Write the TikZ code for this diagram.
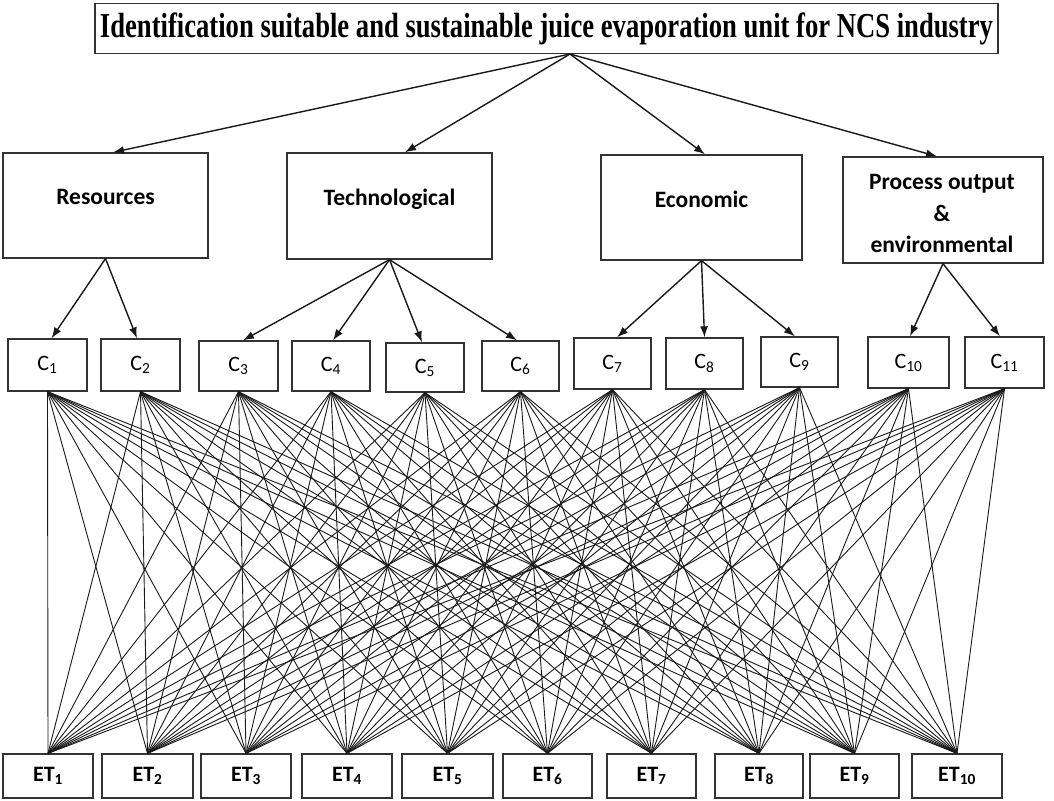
\documentclass[tikz,border=0pt]{standalone}
\usepackage{fontspec}
\usepackage{graphicx}
\setmainfont{Liberation Serif}
\newfontfamily\carlito{Carlito}
\usetikzlibrary{arrows.meta,calc}
\begin{document}
\begin{tikzpicture}[x=1pt,y=-1pt,
  box/.style={draw=black!80,line width=1.3pt,rectangle,inner sep=0pt},
  arr/.style={-{Latex[length=11pt,width=8pt]},line width=1.4pt,black!90},
  mesh/.style={line width=0.9pt,black!90},
  goaltext/.style={font=\bfseries\fontsize{35}{38}\selectfont},
  cattext/.style={font=\carlito\bfseries\fontsize{23.5}{31.5}\selectfont,align=center,inner sep=0pt},
  crit/.style={box,font=\carlito\fontsize{22}{24}\selectfont},
  alt/.style={box,minimum width=90pt,minimum height=44pt,font=\carlito\bfseries\fontsize{22}{24}\selectfont}]
\useasboundingbox (0,0) rectangle (1054,800);

% goal
\node[box,goaltext,minimum width=903pt,minimum height=50pt] (goal) at (546.5,28.5)
  {\resizebox{893pt}{\height}{Identification suitable and sustainable juice evaporation unit for NCS industry}};
\coordinate (gap) at (570,54);

% criteria groups
\node[box,minimum width=205pt,minimum height=105pt] (res) at (105.5,205.5) {};
\node[box,minimum width=205pt,minimum height=106pt] (tech) at (389.5,206) {};
\node[box,minimum width=201pt,minimum height=105pt] (eco) at (701.5,207.5) {};
\node[box,minimum width=200pt,minimum height=106pt] (proc) at (943,210) {};
\node[cattext] (res-t) at (105.5,197) {Resources};
\node[cattext] (tech-t) at (389.5,199.5) {Technological};
\node[cattext] (eco-t) at (701.5,199) {Economic};
\node[cattext] (proc-t) at (942,213.5) {Process output\\\&\\environmental};

% criteria
\node[crit,minimum width=79pt,minimum height=52pt] (c1) at (47.5,365) {C\textsubscript{1}};
\node[crit,minimum width=79pt,minimum height=52pt] (c2) at (140.5,365) {C\textsubscript{2}};
\node[crit,minimum width=79pt,minimum height=50pt] (c3) at (238.5,366) {C\textsubscript{3}};
\node[crit,minimum width=78pt,minimum height=50pt] (c4) at (331,366) {C\textsubscript{4}};
\node[crit,minimum width=78pt,minimum height=49pt] (c5) at (425,367.5) {C\textsubscript{5}};
\node[crit,minimum width=77pt,minimum height=50pt] (c6) at (520.5,366) {C\textsubscript{6}};
\node[crit,minimum width=77pt,minimum height=51pt] (c7) at (612.5,363.5) {C\textsubscript{7}};
\node[crit,minimum width=77pt,minimum height=51pt] (c8) at (704.5,363.5) {C\textsubscript{8}};
\node[crit,minimum width=77pt,minimum height=50pt] (c9) at (799.5,362) {C\textsubscript{9}};
\node[crit,minimum width=81pt,minimum height=51pt] (c10) at (908.5,362.5) {C\textsubscript{10}};
\node[crit,minimum width=79pt,minimum height=51pt] (c11) at (1004.5,362.5) {C\textsubscript{11}};

% alternatives
\node[alt] (et1) at (48,776) {ET\textsubscript{1}};
\node[alt,minimum width=91pt] (et2) at (147.5,776) {ET\textsubscript{2}};
\node[alt] (et3) at (246,776) {ET\textsubscript{3}};
\node[alt] (et4) at (347,776) {ET\textsubscript{4}};
\node[alt,minimum width=91pt] (et5) at (447.5,776) {ET\textsubscript{5}};
\node[alt,minimum width=89pt] (et6) at (547.5,776) {ET\textsubscript{6}};
\node[alt,minimum width=89pt] (et7) at (651.5,776) {ET\textsubscript{7}};
\node[alt,minimum width=88pt] (et8) at (759,776) {ET\textsubscript{8}};
\node[alt,minimum width=89pt] (et9) at (854.5,776) {ET\textsubscript{9}};
\node[alt] (et10) at (957,776) {ET\textsubscript{10}};

% goal to groups
\draw[arr] (gap) -- ($(res.north)+(7.5,0)$);
\draw[arr] (gap) -- ($(tech.north)+(15.5,0)$);
\draw[arr] (gap) -- ($(eco.north)+(3.5,0)$);
\draw[arr] (gap) -- ($(proc.north)+(-6,0)$);

% groups to criteria
\draw[arr] (res.south) -- ($(c1.north)+(4,0)$);
\draw[arr] (res.south) -- ($(c2.north)+(-3.5,0)$);
\draw[arr] (tech.south) -- ($(c3.north)+(4.5,0)$);
\draw[arr] (tech.south) -- ($(c4.north)+(2,0)$);
\draw[arr] (tech.south) -- ($(c5.north)+(-3,0)$);
\draw[arr] (tech.south) -- ($(c6.north)+(-3.5,0)$);
\draw[arr] (eco.south) -- ($(c7.north)+(4.5,0)$);
\draw[arr] (eco.south) -- (c8.north);
\draw[arr] (eco.south) -- ($(c9.north)+(-4.5,0)$);
\draw[arr] (proc.south) -- ($(c10.north)+(1.5,0)$);
\draw[arr] (proc.south) -- ($(c11.north)+(-4.5,0)$);

% every criterion to every alternative
\foreach \i in {1,...,11}
  \foreach \j in {1,...,10}
    \draw[mesh] (c\i.south) -- (et\j.north);
\end{tikzpicture}
\end{document}
